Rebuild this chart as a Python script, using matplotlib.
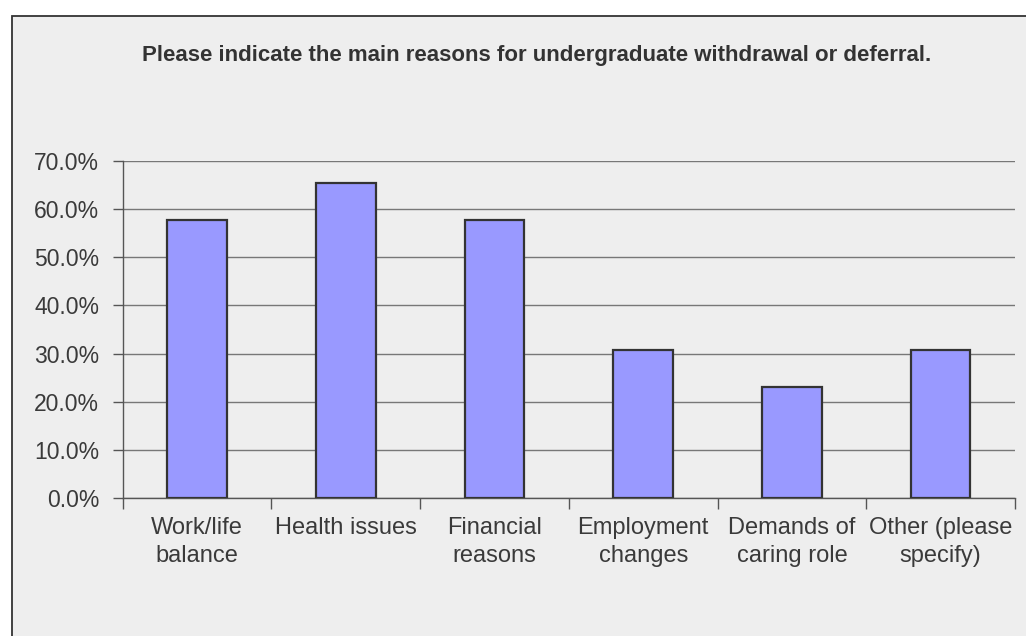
import matplotlib
matplotlib.use('Agg')
import numpy as np
import matplotlib.pyplot as plt
from matplotlib.patches import Rectangle
from matplotlib.ticker import FixedLocator, PercentFormatter

plt.rcParams['font.family'] = ['Liberation Sans', 'DejaVu Sans']

# data
categories = ['Work/life\nbalance', 'Health issues', 'Financial\nreasons',
              'Employment\nchanges', 'Demands of\ncaring role', 'Other (please\nspecify)']
values = [57.7, 65.4, 57.7, 30.8, 23.1, 30.8]
yticks = [0, 10, 20, 30, 40, 50, 60, 70]
title = 'Please indicate the main reasons for undergraduate withdrawal or deferral.'

W, H = 1026, 636
fig = plt.figure(figsize=(W / 100., H / 100.), dpi=100)
fig.patch.set_facecolor('white')

# chart area frame
fig.patches.append(Rectangle((11.5 / W, -0.01), 1.1, (H - 15.5) / H + 0.01,
                             transform=fig.transFigure, facecolor='#eeeeee',
                             edgecolor='#333333', lw=1.3, zorder=-5))

ax = fig.add_axes([122.7 / W, 1 - 498. / H, (1015 - 122.7) / W, (498 - 161.) / H])
ax.set_facecolor('#eeeeee')

x = np.arange(len(values))
ax.bar(x, values, width=0.40, color='#9999ff', edgecolor='#333333', lw=1.6, zorder=3)

ax.set_xlim(-0.5, len(values) - 0.5)
ax.set_ylim(0, 70)
ax.set_yticks(yticks)
ax.yaxis.set_major_formatter(PercentFormatter(decimals=1))
ax.yaxis.grid(True, color='#777777', lw=1.0, zorder=1)

# ticks between categories, labels at centres
ax.xaxis.set_major_locator(FixedLocator(np.arange(len(values) + 1) - 0.5))
ax.xaxis.set_minor_locator(FixedLocator(x))
ax.set_xticklabels([])
ax.set_xticklabels(categories, minor=True, linespacing=1.35)
ax.tick_params(axis='x', which='major', length=8, width=1, color='#555555', direction='out')
ax.tick_params(axis='x', which='minor', length=0, pad=14, labelsize=17, labelcolor='#3a3a3a')
ax.tick_params(axis='y', length=7, width=1, color='#555555', labelsize=16.5,
               labelcolor='#3a3a3a', pad=10)

for s in ['top', 'right']:
    ax.spines[s].set_visible(False)
ax.spines['left'].set_color('#555555')
ax.spines['bottom'].set_color('#555555')
ax.spines['left'].set_linewidth(1.0)
ax.spines['bottom'].set_linewidth(1.0)

fig.text(537. / W, 1 - 55. / H, title, ha='center', va='center', fontsize=16,
         fontweight='bold', color='#333333')

fig.savefig('out.png', dpi=100, facecolor=fig.get_facecolor())
